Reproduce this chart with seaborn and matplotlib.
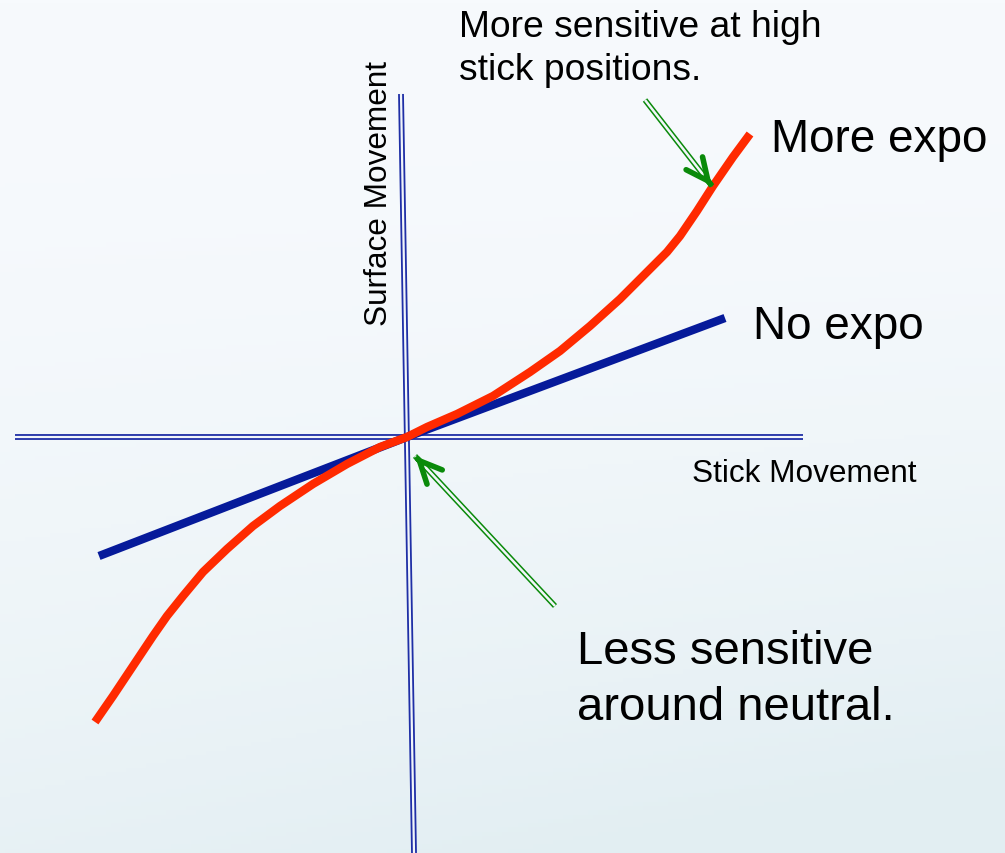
"""Expo curve sketch: stick movement vs surface movement."""

import matplotlib
matplotlib.use("Agg")
import matplotlib.pyplot as plt
import numpy as np
import pandas as pd
import seaborn as sns

# values (origin = where the axes cross)
stick_expo = [-312, -294, -274, -254, -240, -224, -204, -180, -154, -127, -94,
              -60, -27, 0, 20, 50, 86, 123, 153, 183, 213, 240, 260, 273,
              290, 306, 326, 343]
surface_expo = [-285, -259, -229, -199, -179, -159, -135, -112, -89, -69, -47,
                -27, -10, 0, 10, 23, 41, 65, 86, 111, 138, 165, 185, 201,
                226, 251, 280, 303]
stick_linear = [-308, 0, 318]
surface_linear = [-119, 0, 119]

h_axis_x = [-392, 396]
h_axis_y = [0, 0]
v_axis_x = [-6, 7]
v_axis_y = [343, -416]

arrow_tail_high = (238, 337)
arrow_head_high = (305, 251)
arrow_tail_neutral = (148, -169)
arrow_head_neutral = (8, -19)

sns.set_theme(style="white")
plt.rcParams["font.family"] = ["Liberation Sans", "DejaVu Sans"]

RED = "#ff2a00"
NAVY = "#061a9a"
AXIS = "#1f2fa6"
GREEN = "#0a8a0a"
INNER = "#f2f6fa"

fig = plt.figure(figsize=(10.05, 8.54), dpi=100)
ax = fig.add_axes([0, 0, 1, 1])

# soft slide background
gy = np.linspace(0, 1, 200)[:, None]
gx = np.linspace(0, 1, 200)[None, :]
top = np.array([247, 250, 253]) / 255
bot = np.array([226, 238, 242]) / 255
t = np.clip(gy ** 1.8 * (0.75 + 0.4 * gx), 0, 1)[..., None]
bg = top * (1 - t) + bot * t
ax.imshow(bg, extent=(-407, 598, -416, 438), aspect="auto", zorder=0)

# double-line axes
for xs, ys in [(h_axis_x, h_axis_y), (v_axis_x, v_axis_y)]:
    ax.plot(xs, ys, color=AXIS, lw=4.2, solid_capstyle="butt", zorder=2)
    ax.plot(xs, ys, color=INNER, lw=1.6, solid_capstyle="butt", zorder=2)

df_linear = pd.DataFrame({"stick": stick_linear, "surface": surface_linear})
df_expo = pd.DataFrame({"stick": stick_expo, "surface": surface_expo})
sns.lineplot(data=df_linear, x="stick", y="surface", color=NAVY, lw=6,
             sort=False, ax=ax, zorder=3, solid_capstyle="butt")
sns.lineplot(data=df_expo, x="stick", y="surface", color=RED, lw=6,
             sort=False, ax=ax, zorder=4, solid_capstyle="butt",
             solid_joinstyle="round")
ax.set_xlim(-407, 598)
ax.set_ylim(-416, 438)
ax.axis("off")

# green double-shaft arrows
for tail, head in [(arrow_tail_high, arrow_head_high),
                   (arrow_tail_neutral, arrow_head_neutral)]:
    xs, ys = [tail[0], head[0]], [tail[1], head[1]]
    ax.plot(xs, ys, color=GREEN, lw=4.0, solid_capstyle="butt", zorder=5)
    ax.plot(xs, ys, color=INNER, lw=1.8, solid_capstyle="butt", zorder=5)
    near = (head[0] + 0.02 * (tail[0] - head[0]), head[1] + 0.02 * (tail[1] - head[1]))
    ax.annotate("", xy=head, xytext=near,
                arrowprops=dict(arrowstyle="->,head_length=1.6,head_width=0.75",
                                color=GREEN, lw=4.0, shrinkA=0, shrinkB=0,
                                mutation_scale=10, capstyle="round"),
                zorder=6)

ax.text(364, 286, "More expo", fontsize=33, va="baseline", ha="left", color="black")
ax.text(346, 99, "No expo", fontsize=33, va="baseline", ha="left", color="black")
ax.text(285, -44, "Stick Movement", fontsize=22.7, va="baseline", ha="left", color="black")
ax.text(-28, 244, "Surface Movement", fontsize=22.7, rotation=90,
        va="center", ha="center", color="black")
ax.text(52, 358, "More sensitive at high\nstick positions.", fontsize=26.8,
        va="baseline", ha="left", linespacing=1.3, color="black")
ax.text(170, -282, "Less sensitive\naround neutral.", fontsize=34,
        va="baseline", ha="left", linespacing=1.35, color="black")

fig.savefig("out.png", dpi=100)
